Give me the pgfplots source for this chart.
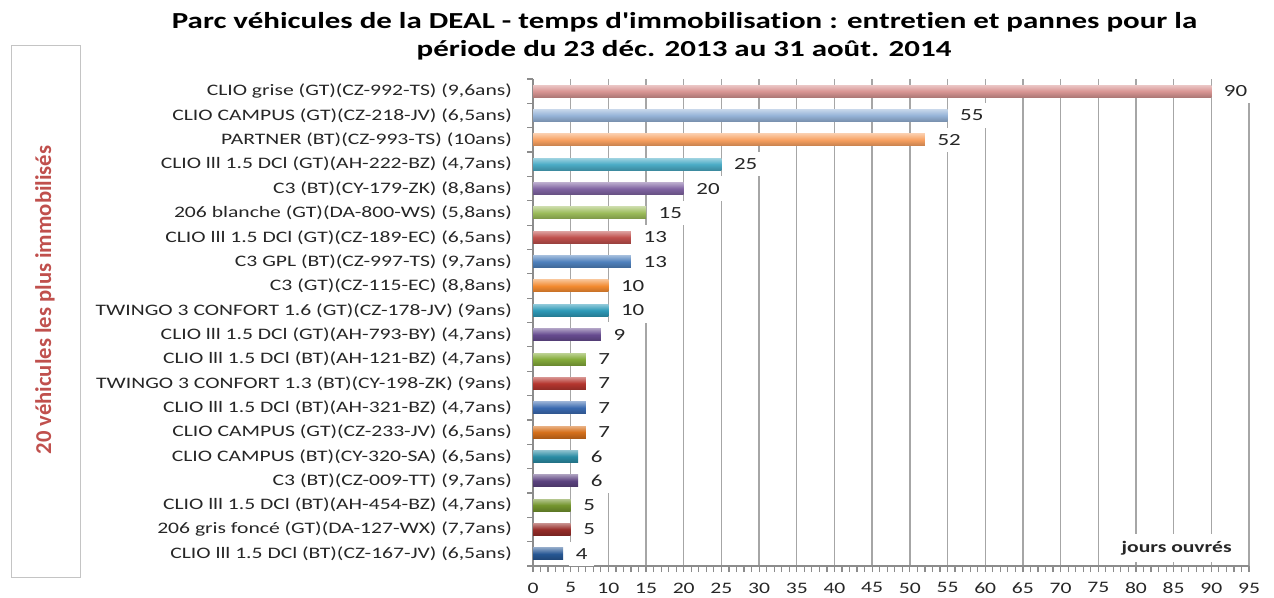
\documentclass[border=0pt]{standalone}
\usepackage{fontspec}
\setmainfont{Carlito}[FakeStretch=1.35, Ligatures={TeXOff,CommonOff}]
\newfontfamily\rotfont{Carlito}
\usepackage{pgfplots}
\pgfplotsset{compat=1.18}
\definecolor{c1}{HTML}{D99694}
\definecolor{c2}{HTML}{95B3D7}
\definecolor{c3}{HTML}{F7A060}
\definecolor{c4}{HTML}{4BACC6}
\definecolor{c5}{HTML}{8064A2}
\definecolor{c6}{HTML}{9BBB59}
\definecolor{c7}{HTML}{C0504D}
\definecolor{c8}{HTML}{4F81BD}
\definecolor{c9}{HTML}{F28A30}
\definecolor{c10}{HTML}{2E9AB8}
\definecolor{c11}{HTML}{664B8F}
\definecolor{c12}{HTML}{86AD3C}
\definecolor{c13}{HTML}{B5362F}
\definecolor{c14}{HTML}{3A6AB0}
\definecolor{c15}{HTML}{D6701C}
\definecolor{c16}{HTML}{2A8CA4}
\definecolor{c17}{HTML}{5C4380}
\definecolor{c18}{HTML}{74952E}
\definecolor{c19}{HTML}{962C28}
\definecolor{c20}{HTML}{275794}
\definecolor{axisgray}{HTML}{8C8C8C}
\definecolor{gridgray}{HTML}{A6A6A6}
\definecolor{boxgray}{HTML}{C4C4C4}
\definecolor{titred}{HTML}{C0504D}
\newcommand{\mybar}[3]{\addplot[xbar, bar shift=0pt, bar width=9pt, draw=none, top color=#3!55!white, bottom color=#3!80!black, middle color=#3] coordinates {(#1,#2)};}
\begin{document}
\begin{tikzpicture}
\path[use as bounding box] (0,0) rectangle (955.5pt,447.75pt);
\node[anchor=base, font=\fontsize{17.2}{21}\selectfont\bfseries] at (513.4pt,426pt) {Parc véhicules de la DEAL - temps d'immobilisation : entretien et pannes pour la};
\node[anchor=base, font=\fontsize{17.2}{21}\selectfont\bfseries] at (513pt,405.5pt) {période du 23 déc. 2013 au 31 août. 2014};
\draw[draw=boxgray, line width=0.75pt] (8.25pt,15pt) rectangle (60pt,413.25pt);
\node[rotate=90, text=titred, font=\rotfont\bfseries\fontsize{17}{20}\selectfont] at (33.75pt,222.75pt) {20 véhicules les plus immobilisés};
\begin{axis}[
  at={(399.75pt,23.25pt)}, anchor=south west,
  scale only axis, width=537pt, height=365.25pt,
  xmin=0, xmax=95, ymin=-0.5, ymax=19.5, y dir=reverse,
  axis x line*=bottom, axis y line*=left,
  axis line style={-, draw=axisgray, line width=0.9pt},
  xtick={0,5,...,95}, minor x tick num=4,
  xmajorgrids, major grid style={draw=gridgray, line width=1pt},
  ytick={0,...,19},
  yticklabels={{CLIO grise (GT)(CZ-992-TS) (9,6ans)},{CLIO CAMPUS (GT)(CZ-218-JV) (6,5ans)},{PARTNER (BT)(CZ-993-TS) (10ans)},{CLIO lll 1.5 DCl (GT)(AH-222-BZ) (4,7ans)},{C3 (BT)(CY-179-ZK) (8,8ans)},{206 blanche (GT)(DA-800-WS) (5,8ans)},{CLIO lll 1.5 DCl (GT)(CZ-189-EC) (6,5ans)},{C3 GPL (BT)(CZ-997-TS) (9,7ans)},{C3 (GT)(CZ-115-EC) (8,8ans)},{TWINGO 3 CONFORT 1.6 (GT)(CZ-178-JV) (9ans)},{CLIO lll 1.5 DCl (GT)(AH-793-BY) (4,7ans)},{CLIO lll 1.5 DCl (BT)(AH-121-BZ) (4,7ans)},{TWINGO 3 CONFORT 1.3 (BT)(CY-198-ZK) (9ans)},{CLIO lll 1.5 DCl (BT)(AH-321-BZ) (4,7ans)},{CLIO CAMPUS (GT)(CZ-233-JV) (6,5ans)},{CLIO CAMPUS (BT)(CY-320-SA) (6,5ans)},{C3 (BT)(CZ-009-TT) (9,7ans)},{CLIO lll 1.5 DCl (BT)(AH-454-BZ) (4,7ans)},{206 gris foncé (GT)(DA-127-WX) (7,7ans)},{CLIO lll 1.5 DCl (BT)(CZ-167-JV) (6,5ans)}},
  minor ytick={-0.5,0.5,...,19.5},
  tick align=outside,
  major tick length=4.5pt, minor tick length=4.5pt,
  tick style={draw=axisgray, line width=0.9pt},
  major y tick style={draw=none},
  /pgf/number format/assume math mode=true,
  xticklabel style={font=\fontsize{12}{14}\selectfont, text=black!85, yshift=-4.5pt},
  yticklabel style={font=\fontsize{12}{14}\selectfont, text=black!85, xshift=-7.75pt},
  point meta=x,
  nodes near coords,
  every node near coord/.append style={anchor=west, xshift=4.5pt, fill=white, inner xsep=4.8pt, inner ysep=5pt, font=\fontsize{12.75}{14}\selectfont, text=black!85},
]
\mybar{90}{0}{c1}
\mybar{55}{1}{c2}
\mybar{52}{2}{c3}
\mybar{25}{3}{c4}
\mybar{20}{4}{c5}
\mybar{15}{5}{c6}
\mybar{13}{6}{c7}
\mybar{13}{7}{c8}
\mybar{10}{8}{c9}
\mybar{10}{9}{c10}
\mybar{9}{10}{c11}
\mybar{7}{11}{c12}
\mybar{7}{12}{c13}
\mybar{7}{13}{c14}
\mybar{7}{14}{c15}
\mybar{6}{15}{c16}
\mybar{6}{16}{c17}
\mybar{5}{17}{c18}
\mybar{5}{18}{c19}
\mybar{4}{19}{c20}
\node[fill=white, inner xsep=8pt, minimum height=21pt, font=\fontsize{12}{14}\selectfont\bfseries, text=black!85] at (axis cs:85.4,18.76) {jours ouvrés};
\end{axis}
\end{tikzpicture}
\end{document}
